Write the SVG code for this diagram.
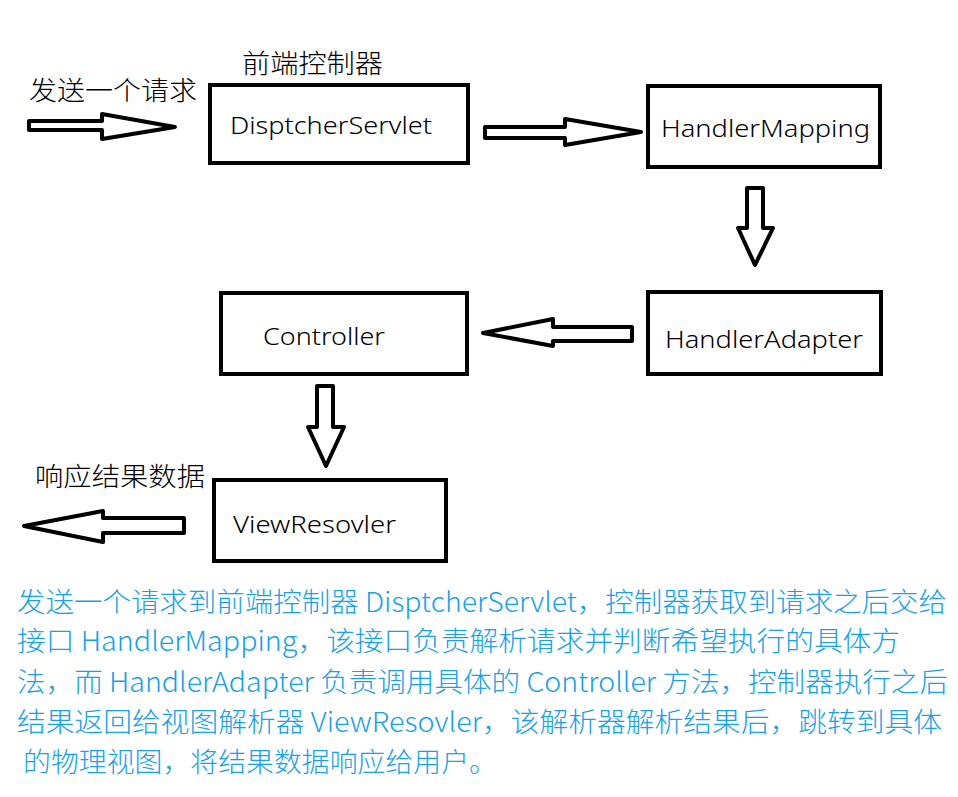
<svg xmlns="http://www.w3.org/2000/svg" width="958" height="797" viewBox="0 0 958 797">
<style>
.box{fill:#fff;stroke:#000;stroke-width:4}
.arr{fill:#fff;stroke:#000;stroke-width:4;stroke-linejoin:round}
.lbl{font-family:"Noto Sans","Noto Sans CJK SC",sans-serif;font-size:24px;font-weight:300;fill:#000}
.cn{font-family:"Noto Sans CJK SC",sans-serif;font-size:26px;font-weight:300;fill:#000}
.para{font-family:"Noto Sans CJK SC",sans-serif;font-size:27px;font-weight:300;fill:#1aa0e6}
</style>
<rect width="958" height="797" fill="#fff"/>
<g id="connectors">
<polygon class="arr" points="29,121 102,121 102,114 175,127 102,139 102,130 29,130"/>
<polygon class="arr" points="485,127 565,127 565,119 641,132 565,145 565,138 485,138"/>
<polygon class="arr" points="747,188 763,188 763,228 773,228 755,265 738,228 747,228"/>
<polygon class="arr" points="632,327 553,327 553,319 483,333 553,346 553,341 632,341"/>
<polygon class="arr" points="317,386 333,386 333,427 344,427 326,466 308,427 317,427"/>
<polygon class="arr" points="184,518 103,518 103,511 24,526 103,542 103,533 184,533"/>
</g>
<g id="label-request"><text class="cn" x="29" y="100" textLength="168" lengthAdjust="spacingAndGlyphs">发送一个请求</text></g>
<g id="label-frontcontroller"><text class="cn" x="242" y="73" textLength="141" lengthAdjust="spacingAndGlyphs">前端控制器</text></g>
<g id="label-response"><text class="cn" x="35" y="486" textLength="170" lengthAdjust="spacingAndGlyphs">响应结果数据</text></g>
<g id="node-dispatcher">
<rect class="box" x="210" y="85" width="258" height="78"/>
<text class="lbl" x="230" y="134" textLength="202" lengthAdjust="spacingAndGlyphs">DisptcherServlet</text>
</g>
<g id="node-handlermapping">
<rect class="box" x="648" y="86" width="232" height="81"/>
<text class="lbl" x="661" y="137" textLength="209" lengthAdjust="spacingAndGlyphs">HandlerMapping</text>
</g>
<g id="node-controller">
<rect class="box" x="221" y="293" width="246" height="81"/>
<text class="lbl" x="263" y="345" textLength="122" lengthAdjust="spacingAndGlyphs">Controller</text>
</g>
<g id="node-handleradapter">
<rect class="box" x="648" y="292" width="233" height="82"/>
<text class="lbl" x="665" y="348" textLength="198" lengthAdjust="spacingAndGlyphs">HandlerAdapter</text>
</g>
<g id="node-viewresolver">
<rect class="box" x="214" y="480" width="232" height="81"/>
<text class="lbl" x="233" y="533" textLength="163" lengthAdjust="spacingAndGlyphs">ViewResovler</text>
</g>
<g id="description">
<text class="para" x="17" y="612" textLength="930" lengthAdjust="spacingAndGlyphs">发送一个请求到前端控制器 DisptcherServlet，控制器获取到请求之后交给</text>
<text class="para" x="17" y="651" textLength="883" lengthAdjust="spacingAndGlyphs">接口 HandlerMapping，该接口负责解析请求并判断希望执行的具体方</text>
<text class="para" x="17" y="692" textLength="931" lengthAdjust="spacingAndGlyphs">法，而 HandlerAdapter 负责调用具体的 Controller 方法，控制器执行之后</text>
<text class="para" x="17" y="732" textLength="925" lengthAdjust="spacingAndGlyphs">结果返回给视图解析器 ViewResovler，该解析器解析结果后，跳转到具体</text>
<text class="para" x="23" y="772" textLength="474" lengthAdjust="spacingAndGlyphs">的物理视图，将结果数据响应给用户。</text>
</g>
</svg>
